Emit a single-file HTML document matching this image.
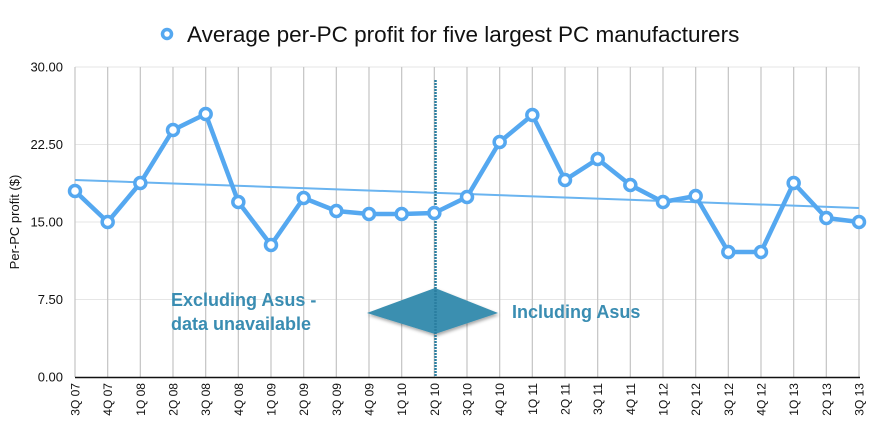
<!DOCTYPE html>
<html><head><meta charset="utf-8"><style>
html,body{margin:0;padding:0;background:#fff;width:890px;height:434px;overflow:hidden}
text{font-family:"Liberation Sans",Arial,sans-serif}
</style></head><body>
<svg id="s" width="890" height="434" xmlns="http://www.w3.org/2000/svg">
<defs><filter id="sh"><feDropShadow dx="1" dy="2" stdDeviation="1.5" flood-opacity="0.35"/></filter></defs>
<g id="grid"></g>
<circle cx="167" cy="34" r="4.5" fill="#fff" stroke="#55a8f0" stroke-width="3.5"/>
<text x="187" y="42" font-size="22.5" fill="#111">Average per-PC profit for five largest PC manufacturers</text>
<text transform="translate(19,222) rotate(-90)" text-anchor="middle" font-size="13" fill="#111">Per-PC profit ($)</text>
<line x1="75" y1="180" x2="859" y2="208" stroke="#6ab4f0" stroke-width="2"/>
<polygon points="367,313 435,288 498,313 435,334" fill="#3a8fb0" filter="url(#sh)"/>
<line x1="435.5" y1="80" x2="435.5" y2="377" stroke="#2a7ea0" stroke-width="2.5" stroke-dasharray="2,1"/>
<g id="data"></g>
<text x="171" y="306" font-size="18" font-weight="bold" fill="#3a8db2">Excluding Asus -</text>
<text x="171" y="330" font-size="18" font-weight="bold" fill="#3a8db2">data unavailable</text>
<text x="512" y="318" font-size="18" font-weight="bold" fill="#3a8db2">Including Asus</text>
</svg>
<script>
var labels=["3Q 07","4Q 07","1Q 08","2Q 08","3Q 08","4Q 08","1Q 09","2Q 09","3Q 09","4Q 09","1Q 10","2Q 10","3Q 10","4Q 10","1Q 11","2Q 11","3Q 11","4Q 11","1Q 12","2Q 12","3Q 12","4Q 12","1Q 13","2Q 13","3Q 13"];
var ys=[191,222,183,130,114,202,245,198,211,214,214,213,197,142,115,180,159,185,202,196,252,252,183,218,222];
var ns="http://www.w3.org/2000/svg",g=document.getElementById("grid"),d=document.getElementById("data");
function el(p,t,a){var e=document.createElementNS(ns,t);for(var k in a)e.setAttribute(k,a[k]);p.appendChild(e);return e;}
var yt=[[67,"30.00"],[144.5,"22.50"],[222,"15.00"],[299.5,"7.50"],[377,"0.00"]];
yt.forEach(function(t){if(t[1]!="0.00")el(g,"line",{x1:75,x2:860,y1:t[0],y2:t[0],stroke:"#e6e6e6","stroke-width":1});
var tx=el(g,"text",{x:63,y:t[0]+4.5,"text-anchor":"end","font-size":"13",fill:"#111"});tx.textContent=t[1];});
var pts=[];
labels.forEach(function(l,i){var x=75+i*784/24;pts.push(x+","+ys[i]);
el(g,"line",{x1:x,x2:x,y1:67,y2:377,stroke:"#c8c8c8","stroke-width":1.3});
var tx=el(g,"text",{transform:"translate("+(x+4.5)+",383) rotate(-90)","text-anchor":"end","font-size":"12",fill:"#111"});tx.textContent=l;});
el(g,"line",{x1:75,x2:860,y1:377.5,y2:377.5,stroke:"#111","stroke-width":1.5});
el(d,"polyline",{points:pts.join(" "),fill:"none",stroke:"#55a8f0","stroke-width":4.5,"stroke-linejoin":"round"});
labels.forEach(function(l,i){var x=75+i*784/24;el(d,"circle",{cx:x,cy:ys[i],r:5.5,fill:"#fff",stroke:"#55a8f0","stroke-width":3.5});});
</script>
</body></html>
